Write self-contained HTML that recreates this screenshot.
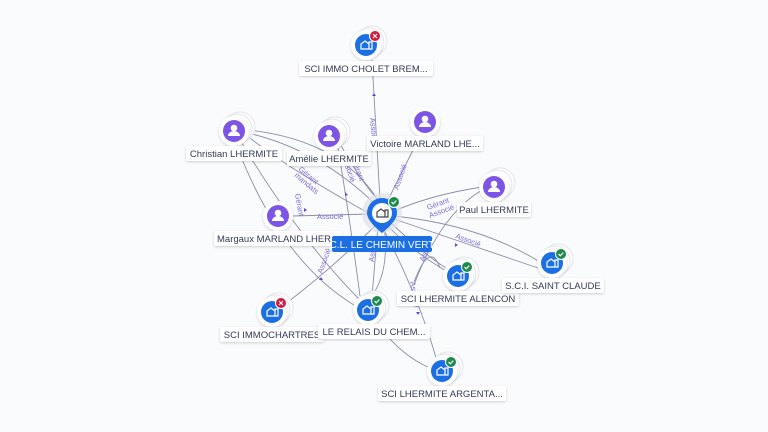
<!DOCTYPE html>
<html><head><meta charset="utf-8"><style>
body{margin:0;width:768px;height:432px;background:#fafbfd;overflow:hidden;font-family:"Liberation Sans",sans-serif}
svg{display:block}
.l{font-size:9.5px;fill:#333a55}
.e{font-size:7.5px;fill:#7a6ad8}
</style></head><body>
<svg width="768" height="432" viewBox="0 0 768 432" xmlns="http://www.w3.org/2000/svg">
<defs>
<filter id="sh" x="-50%" y="-50%" width="200%" height="200%"><feDropShadow dx="0" dy="1" stdDeviation="1.2" flood-color="#000" flood-opacity="0.18"/></filter>
<g id="per"><circle r="11" fill="#7d55e6"/><circle cy="-3" r="3.3" fill="#fff"/><path d="M-6,5 a6,5 0 0 1 12,0 z" fill="#fff"/></g>
<g id="co"><circle r="11" fill="#1b6fe3"/><path d="M-5,4 v-5 l4,-3 l4,3 v5 z M3,-3 h3 v7 h-3z" fill="none" stroke="#fff" stroke-width="1.2"/></g>
<g id="ok"><circle r="5.5" fill="#1e8a4c" stroke="#fff" stroke-width="1"/><path d="M-2.5,0 l1.8,1.8 l3,-3.2" stroke="#fff" stroke-width="1.2" fill="none"/></g>
<g id="ko"><circle r="5.5" fill="#d4193d" stroke="#fff" stroke-width="1"/><path d="M-2,-2 l4,4 M2,-2 l-4,4" stroke="#fff" stroke-width="1.2"/></g>
<g id="stk"><circle cx="6" cy="-4" r="15" fill="#fff" stroke="#e3e4ea"/><circle cx="3" cy="-2" r="15" fill="#fff" stroke="#e3e4ea"/><circle r="15" fill="#fff" filter="url(#sh)"/></g>
</defs>
<g stroke="#8a8fa8" stroke-width="0.9" fill="none">
<path d="M372,60 L380,200"/>
<path d="M248,133 Q320,150 376,205"/>
<path d="M248,130 Q340,140 378,200"/>
<path d="M246,135 Q290,170 372,215"/>
<path d="M240,140 Q300,240 360,300"/>
<path d="M236,144 Q280,260 354,305"/>
<path d="M340,144 Q360,180 378,200"/>
<path d="M338,148 Q350,220 360,296"/>
<path d="M420,136 L388,200"/>
<path d="M482,187 Q430,195 392,212"/>
<path d="M482,190 Q440,215 414,285"/>
<path d="M292,216 L370,214"/>
<path d="M394,216 Q480,225 540,262"/>
<path d="M394,219 Q470,245 538,268"/>
<path d="M390,222 Q430,260 450,270"/>
<path d="M386,224 Q410,250 448,272"/>
<path d="M378,226 L372,296"/>
<path d="M384,226 Q390,270 372,296"/>
<path d="M375,226 Q330,270 284,305"/>
<path d="M382,226 Q420,300 436,358"/>
<path d="M378,324 Q400,355 430,368"/>
<path d="M414,282 Q430,240 440,268"/>
</g>
<g class="e">
<text x="370" y="118" transform="rotate(85 370 118)">Associé</text>
<text x="398" y="190" transform="rotate(-70 398 190)">Associé</text>
<text x="298" y="170" transform="rotate(40 298 170)">Gérant</text>
<text x="294" y="176" transform="rotate(40 294 176)">mandats</text>
<text x="342" y="158" transform="rotate(70 342 158)">Associé</text>
<text x="352" y="160" transform="rotate(70 352 160)">Gérant</text>
<text x="317" y="219">Associé</text>
<text x="428" y="210" transform="rotate(-20 428 210)">Gérant</text>
<text x="430" y="218" transform="rotate(-20 430 218)">Associé</text>
<text x="455" y="238" transform="rotate(20 455 238)">Associé</text>
<text x="295" y="194" transform="rotate(80 295 194)">Gérant</text>
<text x="322" y="274" transform="rotate(-70 322 274)">Associé</text>
<text x="374" y="262" transform="rotate(-85 374 262)">Associé</text>
<text x="424" y="262" transform="rotate(-70 424 262)">Associé</text>
<text x="410" y="282" transform="rotate(80 410 282)">Associé</text>
</g>
<g fill="#5a4fd6">
<path d="M372,96 l2,-3 l2,3z"/><path d="M304,208 l3,2 l-3,2z"/><path d="M345,192 l3,3 l-3,1z"/><path d="M455,243 l3,2 l-3,2z"/><path d="M416,312 l2,3 l2,-3z"/><path d="M319,280 l2,-3 l2,3z"/>
</g>
<!-- nodes -->
<g transform="translate(366,45)"><use href="#stk"/><use href="#co"/><use href="#ko" x="9" y="-9"/></g>
<g transform="translate(234,131)"><use href="#stk"/><use href="#per"/></g>
<g transform="translate(329,136)"><use href="#stk"/><use href="#per"/></g>
<g transform="translate(425,122)"><circle r="15" fill="#fff" filter="url(#sh)"/><use href="#per"/></g>
<g transform="translate(494,187)"><use href="#stk"/><use href="#per"/></g>
<g transform="translate(278,216)"><circle r="15" fill="#fff" filter="url(#sh)"/><use href="#per"/></g>
<g transform="translate(458,276)"><use href="#stk"/><use href="#co"/><use href="#ok" x="9" y="-9"/></g>
<g transform="translate(552,263)"><use href="#stk"/><use href="#co"/><use href="#ok" x="9" y="-9"/></g>
<g transform="translate(272,312)"><use href="#stk"/><use href="#co"/><use href="#ko" x="9" y="-9"/></g>
<g transform="translate(368,310)"><use href="#stk"/><use href="#co"/><use href="#ok" x="9" y="-9"/></g>
<g transform="translate(442,371)"><use href="#stk"/><use href="#co"/><use href="#ok" x="9" y="-9"/></g>
<!-- center -->
<g transform="translate(382,213)">
<circle r="20" fill="#dfe1e8" opacity="0.7"/>
<path d="M-15,0 a15,15 0 1 1 30,0 q0,8 -15,20 q-15,-12 -15,-20z" fill="#1b6fe3"/>
<circle r="10" fill="#fff"/>
<path d="M-5,4 v-5 l4,-3 l4,3 v5 z M3,-3 h3 v7 h-3z" fill="none" stroke="#444" stroke-width="1.2"/>
<use href="#ok" x="12" y="-11"/>
</g>
<!-- labels -->
<g font-size="9.5">
<rect x="299" y="61" width="134" height="15" rx="2" fill="#fff" filter="url(#sh)"/><text class="l" x="366" y="72" text-anchor="middle">SCI IMMO CHOLET BREM...</text>
<rect x="186" y="146" width="96" height="15" rx="2" fill="#fff" filter="url(#sh)"/><text class="l" x="234" y="157" text-anchor="middle">Christian LHERMITE</text>
<rect x="287" y="151" width="84" height="15" rx="2" fill="#fff" filter="url(#sh)"/><text class="l" x="329" y="162" text-anchor="middle">Amélie LHERMITE</text>
<rect x="367" y="136" width="116" height="15" rx="2" fill="#fff" filter="url(#sh)"/><text class="l" x="425" y="147" text-anchor="middle">Victoire MARLAND LHE...</text>
<rect x="457" y="202" width="74" height="15" rx="2" fill="#fff" filter="url(#sh)"/><text class="l" x="494" y="213" text-anchor="middle">Paul LHERMITE</text>
<rect x="214" y="231" width="128" height="15" rx="2" fill="#fff" filter="url(#sh)"/><text class="l" x="217" y="242">Margaux MARLAND LHER</text>
<rect x="332" y="236" width="100" height="16" rx="2" fill="#1b6fe3"/><text x="382" y="248" text-anchor="middle" fill="#fff" font-size="10">C.L. LE CHEMIN VERT</text>
<rect x="397" y="291" width="122" height="15" rx="2" fill="#fff" filter="url(#sh)"/><text class="l" x="458" y="302" text-anchor="middle">SCI LHERMITE ALENCON</text>
<rect x="502" y="278" width="102" height="15" rx="2" fill="#fff" filter="url(#sh)"/><text class="l" x="553" y="289" text-anchor="middle">S.C.I. SAINT CLAUDE</text>
<rect x="220" y="327" width="104" height="15" rx="2" fill="#fff" filter="url(#sh)"/><text class="l" x="272" y="338" text-anchor="middle">SCI IMMOCHARTRES</text>
<rect x="318" y="324" width="112" height="15" rx="2" fill="#fff" filter="url(#sh)"/><text class="l" x="374" y="335" text-anchor="middle">LE RELAIS DU CHEM...</text>
<rect x="378" y="386" width="128" height="15" rx="2" fill="#fff" filter="url(#sh)"/><text class="l" x="442" y="397" text-anchor="middle">SCI LHERMITE ARGENTA...</text>
</g>
</svg>
</body></html>
